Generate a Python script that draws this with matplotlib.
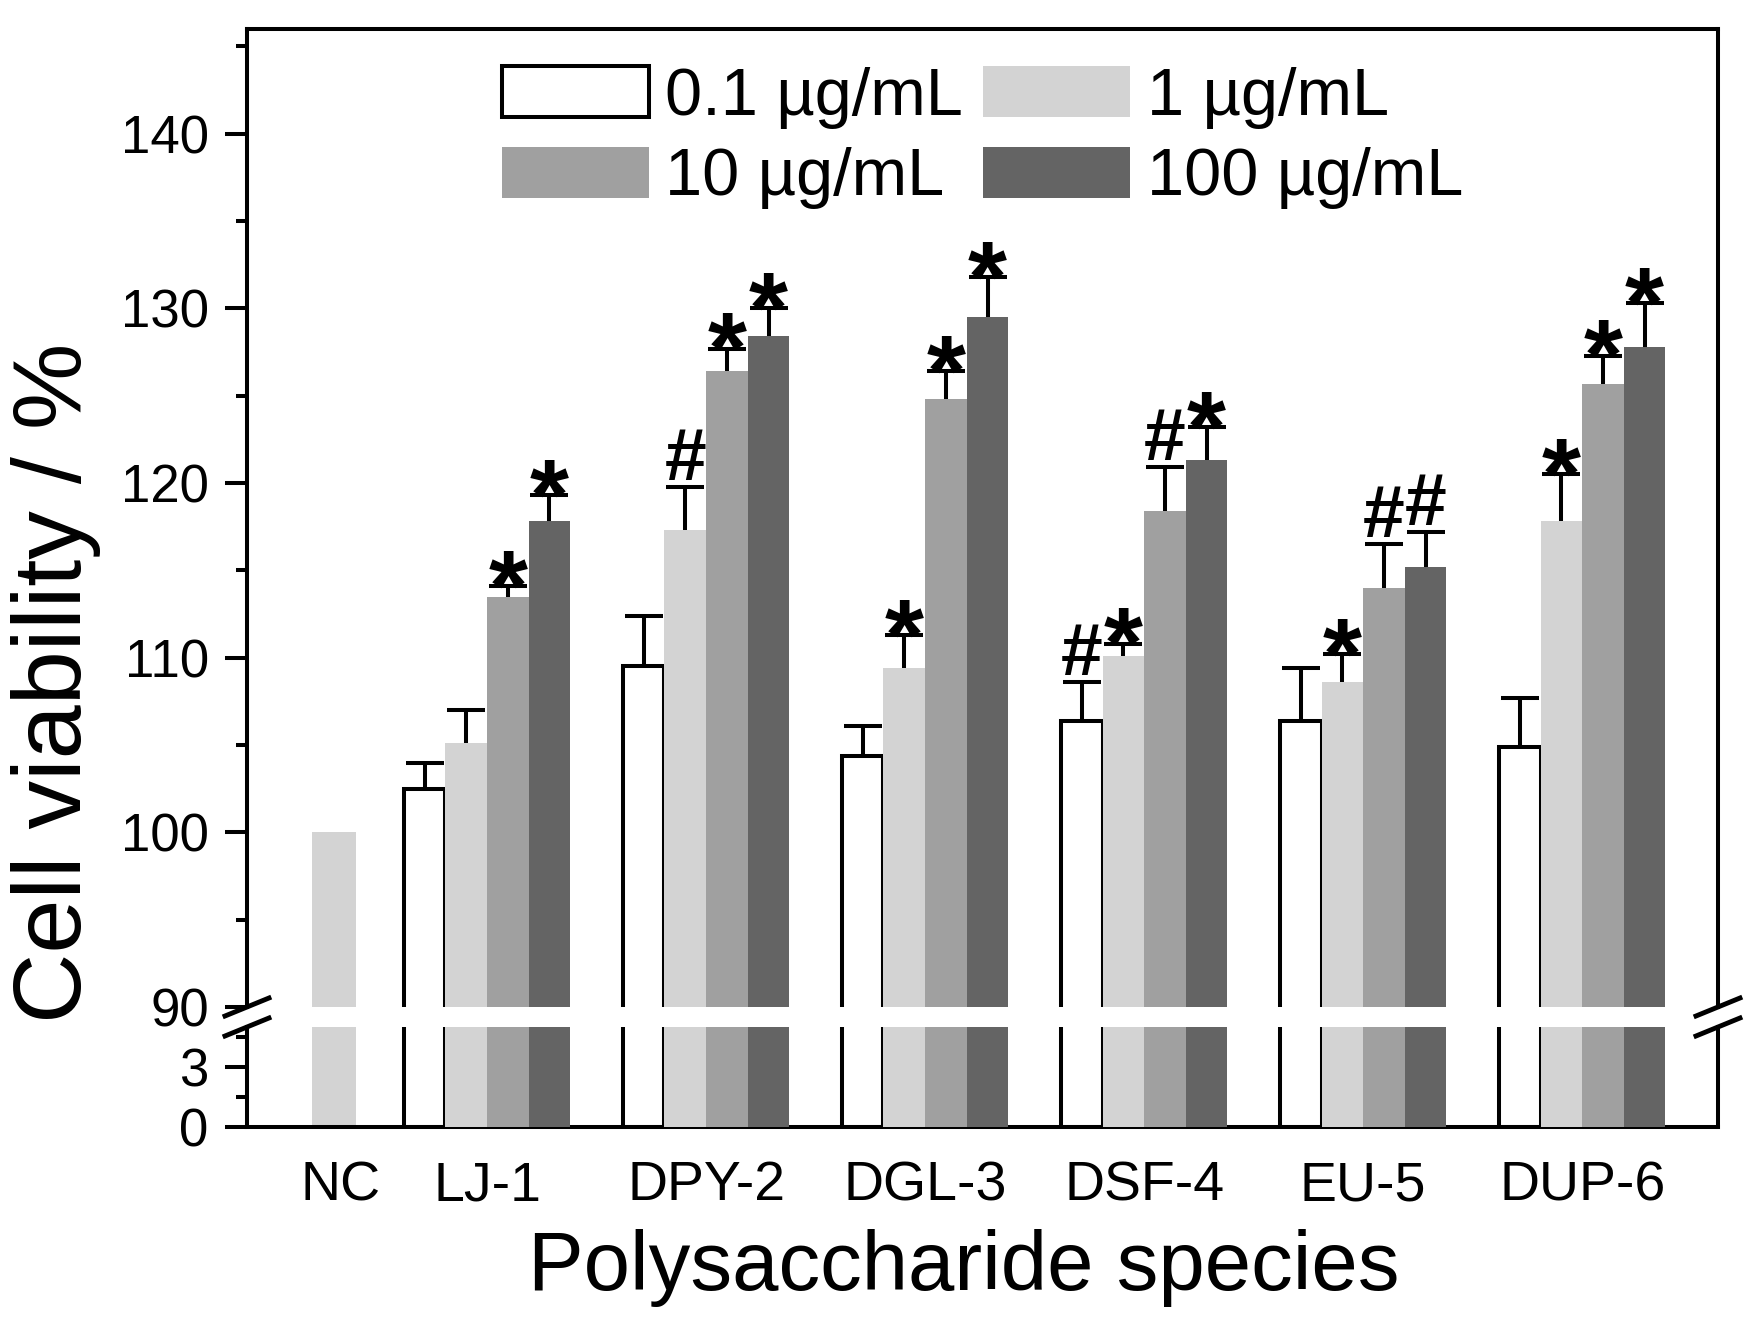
import numpy as np
import matplotlib.pyplot as plt
from matplotlib.lines import Line2D

plt.rcParams['font.family'] = ['Liberation Sans', 'DejaVu Sans']

# ---- data ----
groups = ['LJ-1', 'DPY-2', 'DGL-3', 'DSF-4', 'EU-5', 'DUP-6']
conc = ['0.1 \u00b5g/mL', '1 \u00b5g/mL', '10 \u00b5g/mL', '100 \u00b5g/mL']
nc_val = 100.0

v01  = [102.5, 109.5, 104.4, 106.4, 106.4, 104.9]
e01  = [1.5, 2.9, 1.7, 2.2, 3.0, 2.8]
v1   = [105.1, 117.3, 109.4, 110.1, 108.6, 117.8]
e1   = [1.9, 2.5, 1.9, 0.7, 1.6, 2.7]
v10  = [113.5, 126.4, 124.8, 118.4, 114.0, 125.7]
e10  = [0.6, 1.3, 1.6, 2.5, 2.5, 1.6]
v100 = [117.8, 128.4, 129.5, 121.3, 115.2, 127.8]
e100 = [1.5, 1.6, 2.3, 1.9, 2.0, 2.5]

m01  = ['', '', '', '#', '', '']
m1   = ['', '#', '*', '*', '*', '*']
m10  = ['*', '*', '*', '#', '#', '*']
m100 = ['*', '*', '*', '*', '#', '*']

vals = [v01, v1, v10, v100]
errs = [e01, e1, e10, e100]
marks = [m01, m1, m10, m100]
colors = ['#ffffff', '#d3d3d3', '#a0a0a0', '#646464']

# ---- layout ----
W, H = 1761, 1331
def box(l, t, r, b):    # pixel box -> figure fraction
    return [l/W, 1-b/H, (r-l)/W, (b-t)/H]

fig = plt.figure(figsize=(W/100, H/100), dpi=100)
ax = fig.add_axes(box(247, 29, 1718, 1007))     # upper part, 90-146
axb = fig.add_axes(box(247, 1027, 1718, 1127))  # lower part, 0-5

x = np.arange(1, len(groups)+1)
w = 0.19
off = (np.arange(4)-1.5)*w
x_nc = 0.30
lw = 2.9

handles = []
for a in (ax, axb):
    a.bar(x_nc, nc_val, 0.2, color=colors[1], linewidth=0, zorder=2)
    hs = []
    for k in range(4):
        if k == 0:
            h = a.bar(x+off[k], vals[k], w, color=colors[k], edgecolor='k', linewidth=lw, zorder=2, label=conc[k])
        else:
            h = a.bar(x+off[k], vals[k], w, color=colors[k], linewidth=0, zorder=3, label=conc[k])
        hs.append(h)
    handles = hs
    a.set_xlim(-0.096, 6.62)

# error bars, upper only
for k in range(4):
    top = np.array(vals[k]) + np.array(errs[k])
    ax.vlines(x+off[k], vals[k], top, color='k', linewidth=lw, zorder=4)
    ax.plot(x+off[k], top, '_', color='k', markersize=28, markeredgewidth=lw, zorder=4)
    for i, m in enumerate(marks[k]):
        if m == '*':
            ax.annotate(m, (x[i]+off[k], top[i]), xytext=(0, -24), textcoords='offset points',
                        ha='center', va='baseline', fontsize=72, fontweight='bold', zorder=5)
        elif m == '#':
            ax.annotate(m, (x[i]+off[k], top[i]), xytext=(0, 5), textcoords='offset points',
                        ha='center', va='baseline', fontsize=54, fontweight='bold', zorder=5)

# upper axis
ax.set_ylim(90, 146)
ax.set_yticks(np.arange(90, 141, 10))
ax.set_yticks(np.arange(95, 146, 10), minor=True)
ax.spines['bottom'].set_visible(False)
for s in ('left', 'top', 'right'):
    ax.spines[s].set_linewidth(lw)
ax.tick_params(axis='x', which='both', bottom=False, labelbottom=False)
ax.tick_params(axis='y', which='major', length=15.6, width=lw, labelsize=38, pad=12)
ax.tick_params(axis='y', which='minor', length=8, width=lw)

# lower axis
axb.set_ylim(0, 5)
axb.set_yticks([0, 3])
axb.set_yticks([1.5, 4.5], minor=True)
axb.spines['top'].set_visible(False)
for s in ('left', 'bottom', 'right'):
    axb.spines[s].set_linewidth(lw)
axb.set_xticks([x_nc+0.03] + list(x))
axb.set_xticklabels(['NC'] + groups)
axb.tick_params(axis='x', length=0, labelsize=40, pad=24)
axb.tick_params(axis='y', which='major', length=15.6, width=lw, labelsize=38, pad=12)
axb.tick_params(axis='y', which='minor', length=8, width=lw)
axb.set_xlabel('Polysaccharide species', fontsize=60, labelpad=12)
axb.xaxis.label.set_x(0.487)

fig.text(56/W, 0.487, 'Cell viability / %', rotation=90, ha='center', va='center', fontsize=70)

# axis break marks
for xs in (247, 1718):
    for yc in (1007, 1027):
        fig.add_artist(Line2D([(xs-22)/W, (xs+22)/W], [1-(yc+9)/H, 1-(yc-9)/H],
                              transform=fig.transFigure, color='k', linewidth=3.5))

order = [0, 2, 1, 3]
fig.legend([handles[i] for i in order], [conc[i] for i in order], ncol=2,
           loc='upper left', bbox_to_anchor=(502/W, 1-66/H), frameon=False, fontsize=48,
           handlelength=2.2, handleheight=0.8, handletextpad=0.25, columnspacing=0.3,
           labelspacing=0.27, borderpad=0, borderaxespad=0)

fig.savefig('out.png', dpi=100)
